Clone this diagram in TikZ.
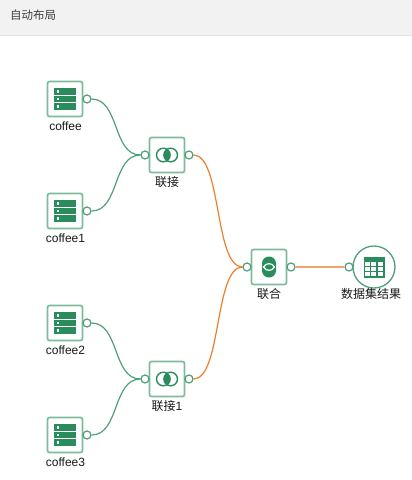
\documentclass[tikz,border=0pt]{standalone}
\usepackage{fontspec}
\setmainfont{Liberation Sans}
\newfontfamily\cjk{Noto Sans CJK SC}
\definecolor{boxline}{HTML}{7DBB9C}
\definecolor{icon}{HTML}{2A8C5C}
\definecolor{glink}{HTML}{4F9F7A}
\definecolor{olink}{HTML}{EE7F2D}
\definecolor{olinksoft}{HTML}{F2A46C}
\definecolor{bar}{HTML}{F2F2F2}
\definecolor{barline}{HTML}{E4E4E4}
\tikzset{
  x=1pt,y=-1pt,
  tile/.style={draw=boxline,line width=1.7pt,rounded corners=2pt,minimum size=35pt,inner sep=0pt,fill=white},
  round tile/.style={circle,draw=glink,line width=1.3pt,minimum size=42pt,inner sep=0pt,fill=white},
  port/.style={circle,draw=glink,line width=1.2pt,minimum size=8pt,inner sep=0pt,fill=white},
  label text/.style={font=\fontsize{12}{13}\selectfont,text=black!90,inner sep=0pt},
  glink line/.style={draw=glink,line width=1.2pt},
  olink line/.style={draw=olink,line width=1.2pt},
  soft line/.style={draw=olinksoft,line width=1.6pt},
  icon line/.style={draw=icon,line width=1.4pt,fill=none},
  head/.style={font=\fontsize{11.5}{13}\selectfont\cjk,text=black!75,inner sep=0pt,anchor=west}
}
\usetikzlibrary{calc}
\newcommand{\dbicon}[1]{%
  \foreach \dy in {-7.5,0,7.5}{
    \fill[icon] ($(#1)+(-11,\dy-3.2)$) rectangle ($(#1)+(11,\dy+3.2)$);
    \fill[white] ($(#1)+(-8,\dy-1.4)$) rectangle ($(#1)+(-6,\dy+1.4)$);
  }}
\newcommand{\joinicon}[1]{%
  \draw[icon line] ($(#1)+(-3.7,0)$) circle (6.8);
  \draw[icon line] ($(#1)+(3.7,0)$) circle (6.8);
  \begin{scope}
    \clip ($(#1)+(-3.7,0)$) circle (7);
    \fill[icon] ($(#1)+(3.7,0)$) circle (7);
  \end{scope}}
\newcommand{\unionicon}[1]{%
  \fill[icon,rounded corners=6.9pt] ($(#1)+(-7,-10.5)$) rectangle ($(#1)+(7,10.5)$);
  \draw[white,line width=1.2pt] ($(#1)+(-5.5,0)$) .. controls ($(#1)+(-2.5,-4.5)$) and ($(#1)+(2.5,-4.5)$) .. ($(#1)+(5.5,0)$) .. controls ($(#1)+(2.5,4.5)$) and ($(#1)+(-2.5,4.5)$) .. cycle;}
\begin{document}
\begin{tikzpicture}
\useasboundingbox (0,0) rectangle (412,480);
\fill[white] (0,0) rectangle (412,480);
\fill[bar] (0,0) rectangle (412,35);
\draw[barline,line width=0.8pt] (0,35.5) -- (412,35.5);
\node[head] (title) at (10,15) {自动布局};

\coordinate (cA) at (65,99);
\coordinate (cB) at (65,211);
\coordinate (cC) at (65,323);
\coordinate (cD) at (65,435);
\coordinate (cJ) at (167,155);
\coordinate (cK) at (167,379);
\coordinate (cU) at (269,267);
\coordinate (cR) at (374,267);

\node[tile] (a) at (cA) {};
\node[tile] (b) at (cB) {};
\node[tile] (c) at (cC) {};
\node[tile] (d) at (cD) {};
\node[tile] (j) at (cJ) {};
\node[tile] (k) at (cK) {};
\node[tile] (u) at (cU) {};
\node[round tile] (r) at (cR) {};

\dbicon{cA}\dbicon{cB}\dbicon{cC}\dbicon{cD}
\joinicon{cJ}\joinicon{cK}
\unionicon{cU}

% table icon
\fill[icon] ($(cR)+(-10.5,-10.5)$) rectangle ($(cR)+(10.5,10.5)$);
\foreach \i in {0,1,2}{\foreach \j in {0,1,2}{
  \fill[white] ($(cR)+(-9+\i*6.3,-5+\j*5.2)$) rectangle ($(cR)+(-9+\i*6.3+5,-5+\j*5.2+3.8)$);
}}

\node[port] (pa) at (87,99) {};
\node[port] (pb) at (87,211) {};
\node[port] (pc) at (87,323) {};
\node[port] (pd) at (87,435) {};
\node[port] (jin) at (145,155) {};
\node[port] (jout) at (189,155) {};
\node[port] (kin) at (145,379) {};
\node[port] (kout) at (189,379) {};
\node[port] (uin) at (247,267) {};
\node[port] (uout) at (291,267) {};
\node[port] (rin) at (349,267) {};

\node[label text] (la) at (65.5,126) {coffee};
\node[label text] (lb) at (65.5,238) {coffee1};
\node[label text] (lc) at (65.5,350) {coffee2};
\node[label text] (ld) at (65.5,462) {coffee3};
\node[label text] (lj) at (167,182) {{\cjk 联接}};
\node[label text] (lk) at (167,406) {{\cjk 联接}1};
\node[label text] (lu) at (269,294) {{\cjk 联合}};
\node[label text] (lr) at (371,294) {{\cjk 数据集结果}};

\draw[glink line] (pa.east) .. controls +(28,0) and +(-28,0) .. (jin.west);
\draw[glink line] (pb.east) .. controls +(28,0) and +(-28,0) .. (jin.west);
\draw[glink line] (pc.east) .. controls +(28,0) and +(-28,0) .. (kin.west);
\draw[glink line] (pd.east) .. controls +(28,0) and +(-28,0) .. (kin.west);
\draw[olink line] (jout.east) .. controls +(28,0) and +(-28,0) .. (uin.west);
\draw[olink line] (kout.east) .. controls +(28,0) and +(-28,0) .. (uin.west);
\draw[soft line] (uout.east) -- (rin.west);
\end{tikzpicture}
\end{document}
